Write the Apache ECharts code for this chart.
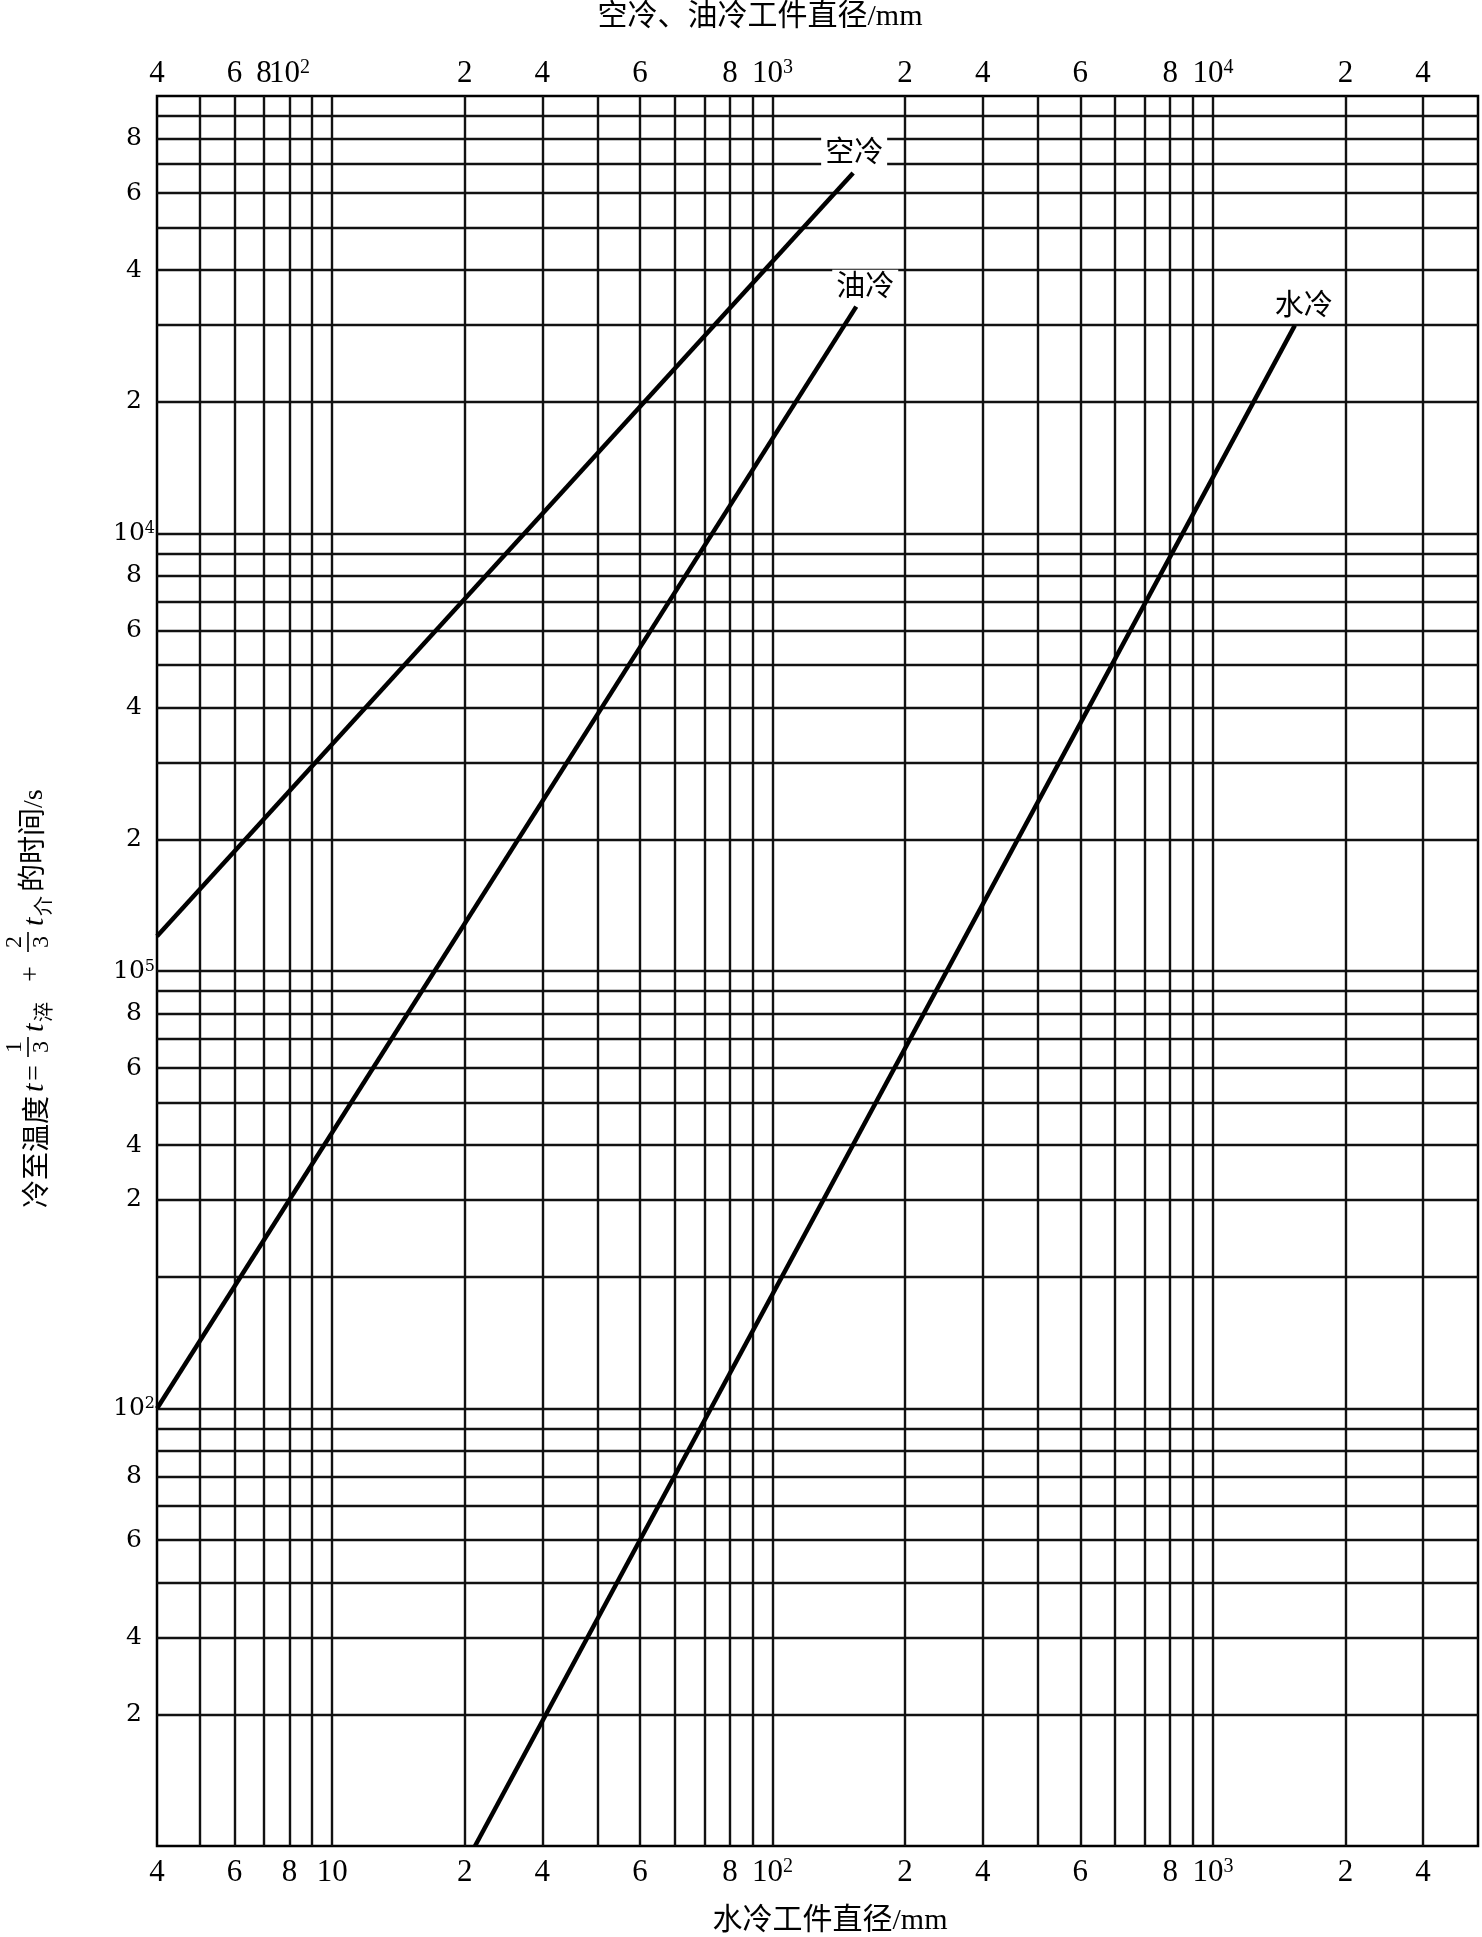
<!DOCTYPE html>
<html>
<head>
<meta charset="utf-8">
<title>冷至温度的时间与工件直径</title>
<script src="https://cdn.jsdelivr.net/npm/echarts@6/dist/echarts.min.js"></script>
<style>
  html, body { margin: 0; padding: 0; background: #fff; }
  #chart { width: 1482px; height: 1937px; }
</style>
</head>
<body>
<div id="chart"></div>
<script>
// 下轴：水冷工件直径；上轴：空冷、油冷工件直径；纵轴：时间/s —— 均为对数坐标
const bottomLabelValues = [4, 6, 8, 10, 20, 30, 50, 80, 100, 200, 300, 500, 800, 1000, 2000, 3000];
const bottomLabelTexts = ['4', '6', '8', '10', '2', '4', '6', '8', '10^2', '2', '4', '6', '8', '10^3', '2', '4'];

const topLabelValues = [40, 60, 70, 80, 200, 300, 500, 800, 1000, 2000, 3000, 5000, 8000, 10000, 20000, 30000];
const topLabelTexts = ['4', '6', '8', '10^2', '2', '4', '6', '8', '10^3', '2', '4', '6', '8', '10^4', '2', '4'];

// 纵轴刻度文字照原图排印（含原图的错印）
const yLabelValues = [20, 30, 50, 70, 100, 300, 400, 600, 800, 1000, 2000, 4000, 6000, 8000, 10000, 20000, 40000, 60000, 80000];
const yLabelTexts = ['2', '4', '6', '8', '10^2', '2', '4', '6', '8', '10^5', '2', '4', '6', '8', '10^4', '2', '4', '6', '8'];

// 网格线（下轴数值 / 纵轴数值）
const gridX = [5, 6, 7, 8, 9, 10, 20, 30, 40, 50, 60, 70, 80, 90,
  100, 200, 300, 400, 500, 600, 700, 800, 900, 1000, 2000, 3000];
const gridY = [20, 30, 40, 50, 60, 70, 80, 90, 100, 200, 300, 400, 500, 600, 700, 800, 900,
  1000, 2000, 3000, 4000, 5000, 6000, 7000, 8000, 9000,
  10000, 20000, 30000, 40000, 50000, 60000, 70000, 80000, 90000];

// 三条直线的端点（空冷、油冷用上轴，水冷用下轴）
const airX = [40, 1524];
const airY = [1200, 66700];
const oilX = [40, 1549];
const oilY = [100, 33000];
const waterX = [21.1, 1535];
const waterY = [10, 29900];

const serif = '"Liberation Serif", "Times New Roman", serif';
const cjk = '"Noto Sans CJK SC", sans-serif';
const ySerif = '"DejaVu Serif", serif';

function makeFormatter(values, texts) {
  return function (v) {
    const i = values.findIndex(x => Math.abs(x - v) < x * 1e-6);
    if (i < 0) return '';
    const m = /^10\^(\d)$/.exec(texts[i]);
    return m ? '{n|10}{s|' + m[1] + '}' : texts[i];
  };
}

function xLabel(values, texts, margin) {
  return {
    customValues: values,
    formatter: makeFormatter(values, texts),
    margin: margin,
    color: '#000',
    fontFamily: serif,
    fontSize: 31,
    rich: {
      n: { fontFamily: serif, fontSize: 31, color: '#000' },
      s: { fontFamily: serif, fontSize: 20, color: '#000', verticalAlign: 'top' }
    }
  };
}

function curve(name, xs, ys, xIndex, labelOffset, extra) {
  const last = xs.length - 1;
  return Object.assign({
    name: name,
    type: 'line',
    xAxisIndex: xIndex,
    yAxisIndex: 0,
    data: xs.map((x, i) => [x, ys[i]]),
    symbol: 'none',
    silent: true,
    z: 3,
    lineStyle: { color: '#000', width: 4.5 },
    markPoint: {
      z: 6,
      silent: true,
      symbol: 'circle',
      symbolSize: 0,
      itemStyle: { color: 'transparent' },
      label: {
        show: true,
        position: 'top',
        distance: 6,
        offset: labelOffset,
        formatter: name,
        color: '#000',
        fontFamily: cjk,
        fontSize: 29,
        backgroundColor: '#fff',
        padding: [1, 4]
      },
      data: [{ coord: [xs[last], ys[last]] }]
    }
  }, extra || {});
}

const chart = echarts.init(document.getElementById('chart'));

chart.setOption({
  animation: false,
  backgroundColor: '#fff',
  grid: {
    left: 157, right: 4, top: 96, bottom: 91,
    show: true, borderColor: '#000', borderWidth: 2.5, backgroundColor: '#fff'
  },
  xAxis: [
    {
      type: 'log', logBase: 10, min: 4, max: 4000, position: 'bottom',
      axisLine: { show: false }, axisTick: { show: false }, splitLine: { show: false },
      axisLabel: xLabel(bottomLabelValues, bottomLabelTexts, 11)
    },
    {
      type: 'log', logBase: 10, min: 40, max: 40000, position: 'top',
      axisLine: { show: false }, axisTick: { show: false }, splitLine: { show: false },
      axisLabel: xLabel(topLabelValues, topLabelTexts, 7)
    }
  ],
  yAxis: {
    type: 'log', logBase: 10, min: 10, max: 100000,
    axisLine: { show: false }, axisTick: { show: false }, splitLine: { show: false },
    axisLabel: {
      customValues: yLabelValues,
      formatter: makeFormatter(yLabelValues, yLabelTexts),
      align: 'center',
      margin: 23,
      color: '#000',
      fontFamily: ySerif,
      fontSize: 25,
      rich: {
        n: { fontFamily: ySerif, fontSize: 25, color: '#000' },
        s: { fontFamily: ySerif, fontSize: 16, color: '#000', verticalAlign: 'top' }
      }
    }
  },
  graphic: [
    {
      type: 'text', x: 760, y: 17,
      style: { text: '空冷、油冷工件直径/mm', fill: '#000', font: '30px ' + serif + ', ' + cjk, align: 'center', verticalAlign: 'middle' }
    },
    {
      type: 'text', x: 830, y: 1921,
      style: { text: '水冷工件直径/mm', fill: '#000', font: '30px ' + serif + ', ' + cjk, align: 'center', verticalAlign: 'middle' }
    },
    {
      type: 'group', x: 35, y: 1208, rotation: Math.PI / 2,
      children: [
        { type: 'text', x: 0, y: 0, style: { text: '冷至温度', fill: '#000', font: '28px ' + cjk, verticalAlign: 'middle' } },
        { type: 'text', x: 116, y: 0, style: { text: 't', fill: '#000', font: 'italic 30px ' + serif, verticalAlign: 'middle' } },
        { type: 'text', x: 127, y: 0, style: { text: '=', fill: '#000', font: '28px ' + serif, verticalAlign: 'middle' } },
        { type: 'text', x: 161, y: -20, style: { text: '1', fill: '#000', font: '24px ' + serif, align: 'center', verticalAlign: 'middle' } },
        { type: 'line', shape: { x1: 151, y1: -7, x2: 171, y2: -7 }, style: { stroke: '#000', lineWidth: 1.6 } },
        { type: 'text', x: 161, y: 7, style: { text: '3', fill: '#000', font: '24px ' + serif, align: 'center', verticalAlign: 'middle' } },
        { type: 'text', x: 176, y: 0, style: { text: 't', fill: '#000', font: 'italic 30px ' + serif, verticalAlign: 'middle' } },
        { type: 'text', x: 186, y: 8, style: { text: '淬', fill: '#000', font: '20px ' + cjk, verticalAlign: 'middle' } },
        { type: 'text', x: 226, y: -3, style: { text: '+', fill: '#000', font: '28px ' + serif, verticalAlign: 'middle' } },
        { type: 'text', x: 266, y: -20, style: { text: '2', fill: '#000', font: '24px ' + serif, align: 'center', verticalAlign: 'middle' } },
        { type: 'line', shape: { x1: 256, y1: -7, x2: 276, y2: -7 }, style: { stroke: '#000', lineWidth: 1.6 } },
        { type: 'text', x: 266, y: 7, style: { text: '3', fill: '#000', font: '24px ' + serif, align: 'center', verticalAlign: 'middle' } },
        { type: 'text', x: 282, y: 0, style: { text: 't', fill: '#000', font: 'italic 30px ' + serif, verticalAlign: 'middle' } },
        { type: 'text', x: 292, y: 8, style: { text: '介', fill: '#000', font: '20px ' + cjk, verticalAlign: 'middle' } },
        { type: 'text', x: 316, y: 0, style: { text: '的时间/s', fill: '#000', font: '28px ' + serif + ', ' + cjk, verticalAlign: 'middle' } }
      ]
    }
  ],
  series: [
    curve('空冷', airX, airY, 1, [1, 0]),
    curve('油冷', oilX, oilY, 1, [9, 0]),
    curve('水冷', waterX, waterY, 0, [9, 0], {
      markLine: {
        z: 1,
        silent: true,
        symbol: ['none', 'none'],
        label: { show: false },
        lineStyle: { color: '#111', width: 2.4, type: 'solid' },
        data: gridX.map(v => ({ xAxis: v })).concat(gridY.map(v => ({ yAxis: v })))
      }
    })
  ]
});
</script>
</body>
</html>
